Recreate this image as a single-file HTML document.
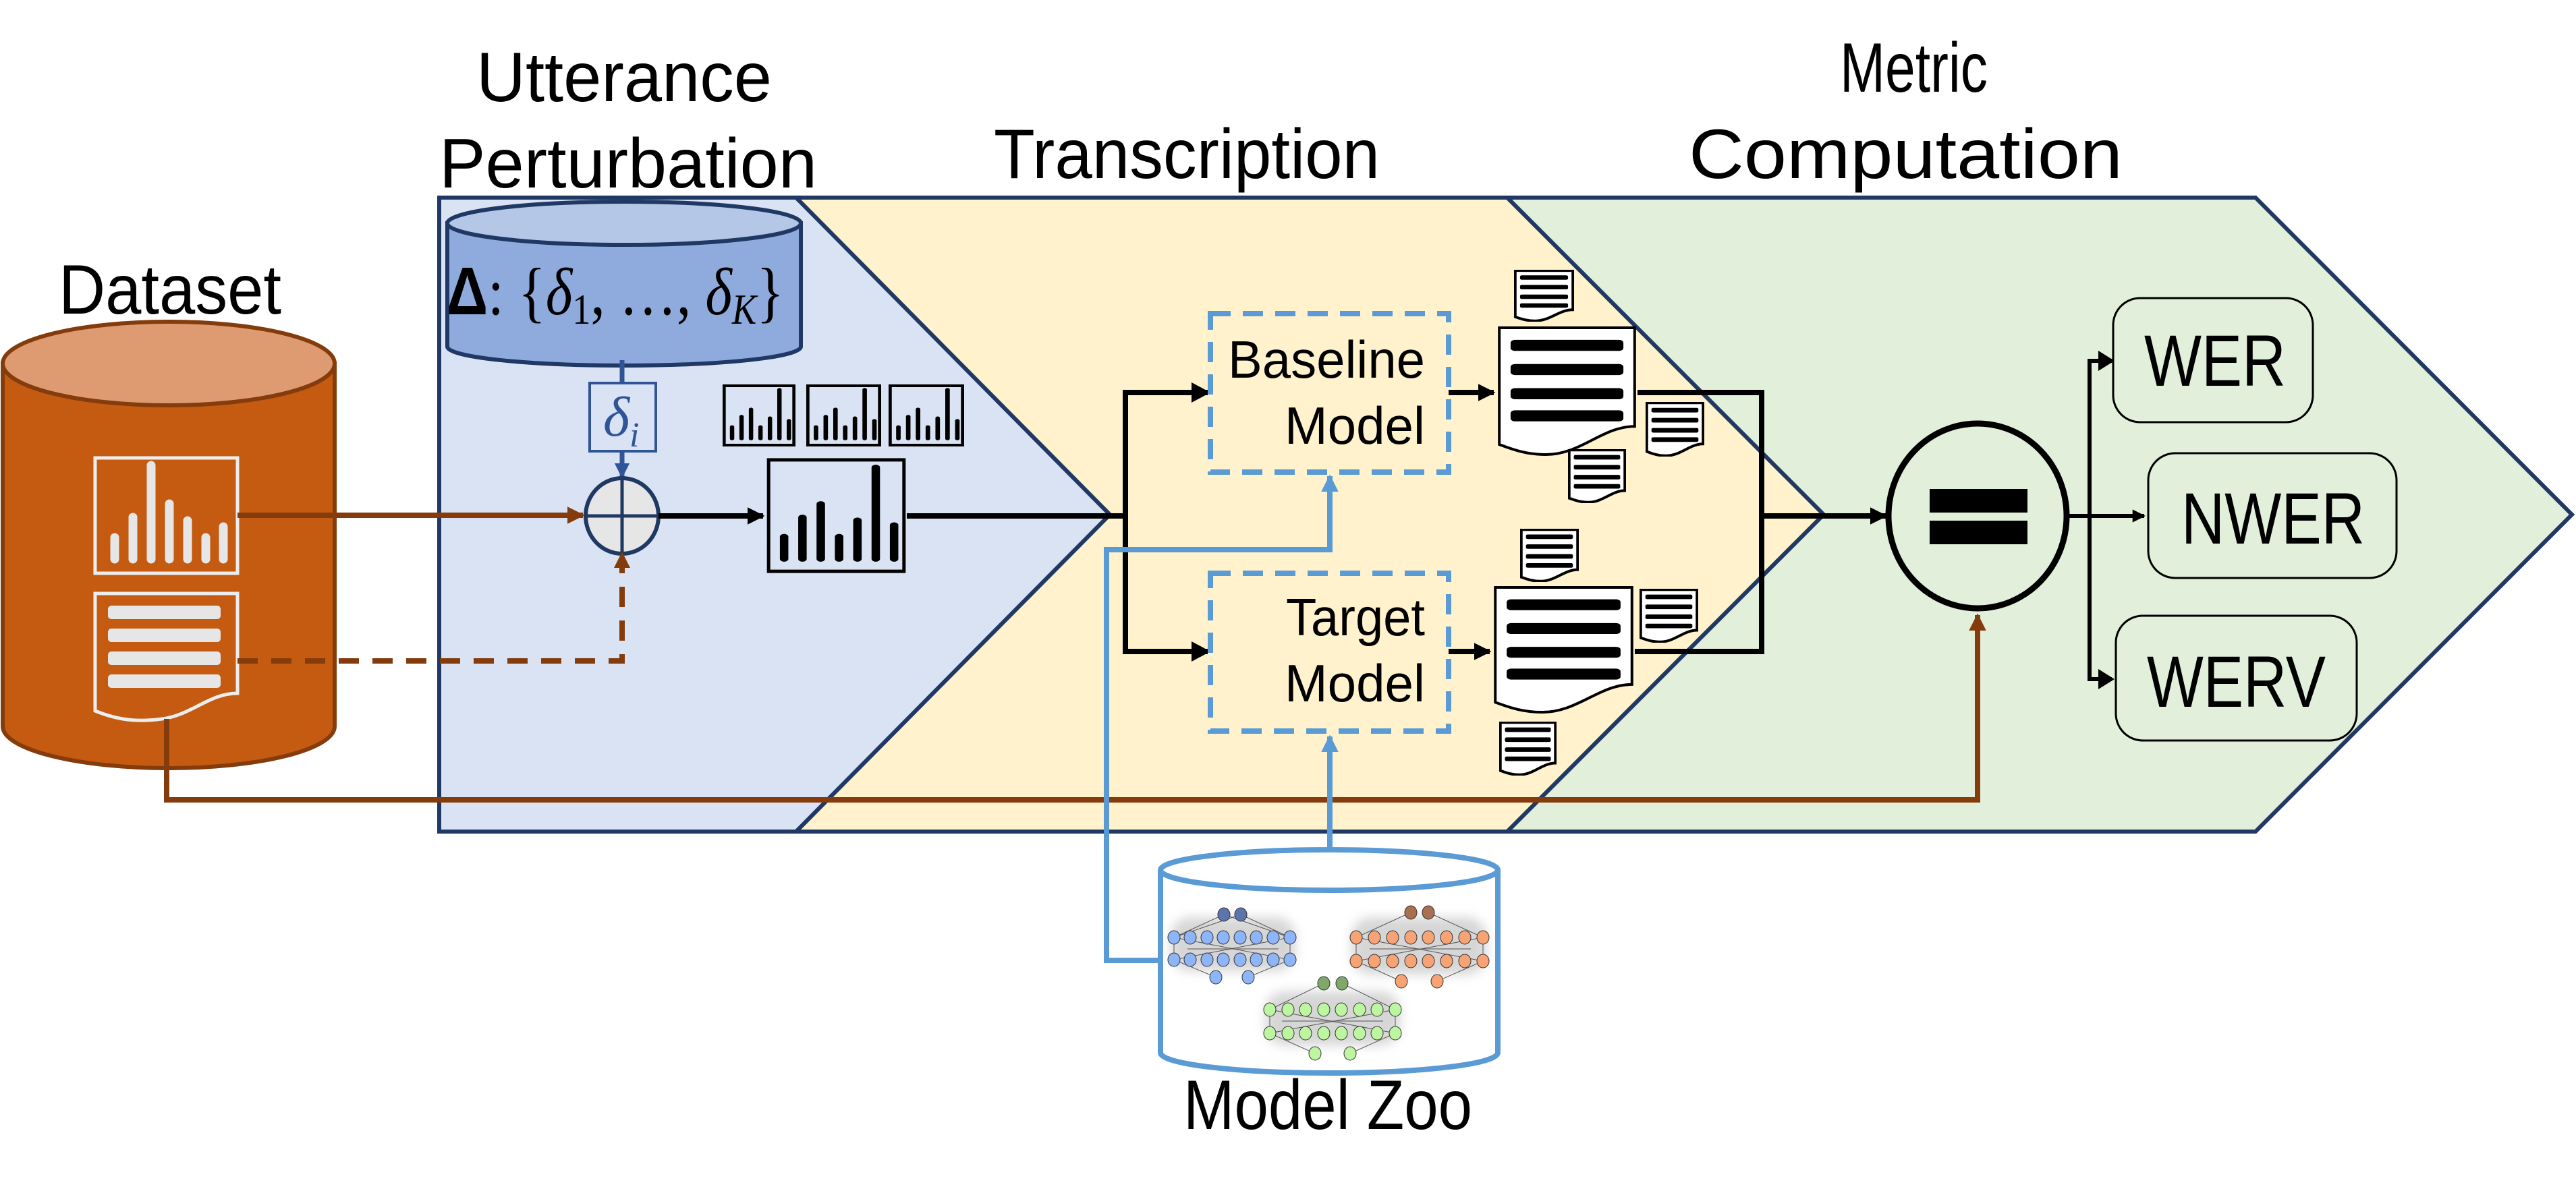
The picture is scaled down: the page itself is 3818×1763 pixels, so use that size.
<!DOCTYPE html>
<html><head><meta charset="utf-8"><style>html,body{margin:0;padding:0;background:#fff}svg{display:block}</style></head>
<body>
<svg xmlns="http://www.w3.org/2000/svg" width="3818" height="1763" viewBox="0 0 3818 1763" font-family="'Liberation Sans', sans-serif">
<defs>
<marker id="ab" viewBox="0 0 10 10" refX="9" refY="5" markerWidth="3.2" markerHeight="3.2" orient="auto" markerUnits="strokeWidth"><path d="M0 0L10 5L0 10z" fill="#000"/></marker>
<marker id="abr" viewBox="0 0 10 10" refX="9" refY="5" markerWidth="3.2" markerHeight="3.2" orient="auto" markerUnits="strokeWidth"><path d="M0 0L10 5L0 10z" fill="#843c0c"/></marker>
<marker id="abl" viewBox="0 0 10 10" refX="9" refY="5" markerWidth="3.2" markerHeight="3.2" orient="auto" markerUnits="strokeWidth"><path d="M0 0L10 5L0 10z" fill="#5b9bd5"/></marker>
<marker id="abd" viewBox="0 0 10 10" refX="9" refY="5" markerWidth="3.2" markerHeight="3.2" orient="auto" markerUnits="strokeWidth"><path d="M0 0L10 5L0 10z" fill="#2f5597"/></marker>
<symbol id="doc" viewBox="0 0 100 130" preserveAspectRatio="none">
<path d="M2 2H98V100C75 100 60 128 35 128C20 128 10 122 2 118Z" fill="#fff" stroke="#000" stroke-width="4" vector-effect="non-scaling-stroke"/>
<rect x="10" y="14" width="80" height="11" rx="3"/><rect x="10" y="38" width="80" height="11" rx="3"/><rect x="10" y="62" width="80" height="11" rx="3"/><rect x="10" y="84" width="80" height="11" rx="3"/>
</symbol>
<symbol id="spec" viewBox="0 0 100 120" preserveAspectRatio="none">
<rect x="2" y="2" width="96" height="116" fill="none" stroke="#000" stroke-width="5" vector-effect="non-scaling-stroke"/>
<g stroke="#000" stroke-width="6" stroke-linecap="round">
<line x1="13" y1="82" x2="13" y2="105"/><line x1="26" y1="62" x2="26" y2="105"/><line x1="39" y1="48" x2="39" y2="105"/><line x1="52" y1="82" x2="52" y2="105"/><line x1="65" y1="65" x2="65" y2="105"/><line x1="78" y1="10" x2="78" y2="105"/><line x1="91" y1="70" x2="91" y2="105"/>
</g>
</symbol>
<filter id="sh" x="-20%" y="-20%" width="140%" height="140%"><feGaussianBlur stdDeviation="8"/></filter>
</defs>

<!-- panels -->
<polygon points="651,293 1180,293 1645,763 1180,1233 651,1233" fill="#dae3f3" stroke="#1f3864" stroke-width="6"/>
<polygon points="1180,293 2234,293 2703,763 2234,1233 1180,1233 1645,763" fill="#fff2cc" stroke="#1f3864" stroke-width="6"/>
<polygon points="2234,293 3343,293 3812,763 3343,1233 2234,1233 2703,763" fill="#e2efda" stroke="#1f3864" stroke-width="6"/>

<!-- titles -->
<g font-size="104" fill="#000">
<text x="706" y="150" textLength="438" lengthAdjust="spacingAndGlyphs">Utterance</text>
<text x="651" y="278" textLength="560" lengthAdjust="spacingAndGlyphs">Perturbation</text>
<text x="1473" y="264" textLength="572" lengthAdjust="spacingAndGlyphs">Transcription</text>
<text x="2727" y="136" textLength="219" lengthAdjust="spacingAndGlyphs">Metric</text>
<text x="2503" y="264" textLength="643" lengthAdjust="spacingAndGlyphs">Computation</text>
<text x="87" y="465" textLength="330" lengthAdjust="spacingAndGlyphs">Dataset</text>
<text x="1754" y="1674" textLength="428" lengthAdjust="spacingAndGlyphs">Model Zoo</text>
</g>

<!-- dataset cylinder -->
<path d="M4 539V1077A246 62 0 0 0 496 1077V539Z" fill="#c55a11" stroke="#843c0c" stroke-width="6"/>
<ellipse cx="250" cy="539" rx="246" ry="62" fill="#de9b72" stroke="#843c0c" stroke-width="6"/>
<rect x="141" y="679" width="211" height="171" fill="none" stroke="#ededed" stroke-width="5"/>
<g stroke="#e7e6e6" stroke-width="13" stroke-linecap="round">
<line x1="170" y1="797" x2="170" y2="829"/><line x1="197" y1="767" x2="197" y2="829"/><line x1="224" y1="690" x2="224" y2="829"/><line x1="251" y1="747" x2="251" y2="829"/><line x1="278" y1="772" x2="278" y2="829"/><line x1="305" y1="797" x2="305" y2="829"/><line x1="331" y1="781" x2="331" y2="829"/>
</g>
<path d="M141 880H352V1028C310 1028 285 1060 240 1066C210 1070 180 1070 141 1054Z" fill="none" stroke="#ededed" stroke-width="5"/>
<g fill="#e7e6e6"><rect x="160" y="898" width="167" height="20" rx="5"/><rect x="160" y="932" width="167" height="20" rx="5"/><rect x="160" y="966" width="167" height="20" rx="5"/><rect x="160" y="1000" width="167" height="20" rx="5"/></g>

<!-- delta cylinder -->
<path d="M663 331V514A262 28 0 0 0 1187 514V331Z" fill="#8faadc" stroke="#1f3864" stroke-width="6"/>
<ellipse cx="925" cy="331" rx="262" ry="32" fill="#b4c7e7" stroke="#1f3864" stroke-width="6"/>
<text x="662" y="466" font-size="100" font-family="'Liberation Serif', serif" textLength="500" lengthAdjust="spacingAndGlyphs"><tspan font-weight="bold" font-family="'Liberation Sans', sans-serif">Δ</tspan>: {<tspan font-style="italic">δ</tspan><tspan font-size="64" dy="14">1</tspan><tspan dy="-14">, …, </tspan><tspan font-style="italic">δ</tspan><tspan font-size="64" font-style="italic" dy="14">K</tspan><tspan dy="-14">}</tspan></text>
<line x1="922" y1="534" x2="922" y2="568" stroke="#2f5597" stroke-width="7"/>
<rect x="874" y="568" width="98" height="101" fill="#dae3f3" stroke="#2f5597" stroke-width="4"/>
<text x="894" y="646" font-size="84" font-style="italic" fill="#2f5597" font-family="'Liberation Serif', serif">δ<tspan font-size="52" dy="16">i</tspan></text>
<line x1="922" y1="669" x2="922" y2="707" stroke="#2f5597" stroke-width="7" marker-end="url(#abd)"/>

<!-- plus circle -->
<ellipse cx="922" cy="765" rx="54" ry="56" fill="#e7e6e6" stroke="#1f3864" stroke-width="6"/>
<line x1="868" y1="765" x2="976" y2="765" stroke="#1f3864" stroke-width="5"/>
<line x1="922" y1="709" x2="922" y2="821" stroke="#1f3864" stroke-width="5"/>

<!-- brown connectors -->
<line x1="352" y1="764" x2="864" y2="764" stroke="#843c0c" stroke-width="8" marker-end="url(#abr)"/>
<polyline points="352,980 922,980 922,842" fill="none" stroke="#843c0c" stroke-width="8" stroke-dasharray="30,20" />
<path d="M910 842L922 818L934 842Z" fill="#843c0c"/>
<polyline points="247,1066 247,1186 2931,1186 2931,912" fill="none" stroke="#843c0c" stroke-width="8" marker-end="url(#abr)"/>

<!-- spectrograms -->
<use href="#spec" x="1071" y="570" width="108" height="92"/>
<use href="#spec" x="1195" y="570" width="111" height="92"/>
<use href="#spec" x="1317" y="570" width="112" height="92"/>
<use href="#spec" x="1135" y="679" width="209" height="171"/>
<line x1="976" y1="765" x2="1131" y2="765" stroke="#000" stroke-width="8" marker-end="url(#ab)"/>
<line x1="1344" y1="765" x2="1672" y2="765" stroke="#000" stroke-width="8"/>
<polyline points="1790,582 1668,582 1668,966 1790,966" fill="none" stroke="#000" stroke-width="8"/>
<path d="M1766 567L1794 582L1766 597Z"/><path d="M1766 951L1794 966L1766 981Z"/>

<!-- model boxes -->
<rect x="1794" y="465" width="353" height="235" fill="none" stroke="#5b9bd5" stroke-width="8" stroke-dasharray="30,18"/>
<rect x="1794" y="850" width="353" height="234" fill="none" stroke="#5b9bd5" stroke-width="8" stroke-dasharray="30,18"/>
<g font-size="78" text-anchor="end">
<text x="2112" y="560" textLength="292" lengthAdjust="spacingAndGlyphs">Baseline</text><text x="2112" y="658" textLength="208" lengthAdjust="spacingAndGlyphs">Model</text>
<text x="2112" y="942" textLength="206" lengthAdjust="spacingAndGlyphs">Target</text><text x="2112" y="1040" textLength="208" lengthAdjust="spacingAndGlyphs">Model</text>
</g>
<line x1="2147" y1="582" x2="2214" y2="582" stroke="#000" stroke-width="8" marker-end="url(#ab)"/>
<line x1="2147" y1="966" x2="2208" y2="966" stroke="#000" stroke-width="8" marker-end="url(#ab)"/>

<!-- docs -->
<use href="#doc" x="2244" y="400" width="89" height="77"/>
<use href="#doc" x="2218" y="483" width="209" height="194"/>
<use href="#doc" x="2439" y="596" width="87" height="81"/>
<use href="#doc" x="2324" y="666" width="86" height="80"/>
<use href="#doc" x="2253" y="784" width="87" height="79"/>
<use href="#doc" x="2212" y="868" width="211" height="191"/>
<use href="#doc" x="2430" y="873" width="87" height="80"/>
<use href="#doc" x="2222" y="1070" width="85" height="80"/>

<polyline points="2427,582 2611,582 2611,966 2423,966" fill="none" stroke="#000" stroke-width="8"/>
<line x1="2611" y1="765" x2="2795" y2="765" stroke="#000" stroke-width="8" marker-end="url(#ab)"/>

<!-- equals circle -->
<ellipse cx="2931" cy="765" rx="132" ry="137" fill="none" stroke="#000" stroke-width="9"/>
<rect x="2860" y="725" width="145" height="35"/><rect x="2860" y="772" width="145" height="35"/>

<!-- metrics -->
<line x1="3063" y1="765" x2="3178" y2="765" stroke="#000" stroke-width="6" marker-end="url(#ab)"/>
<polyline points="3130,535 3097,535 3097,1007 3130,1007" fill="none" stroke="#000" stroke-width="6"/>
<path d="M3110 520L3134 535L3110 550Z"/><path d="M3110 992L3134 1007L3110 1022Z"/>
<g fill="#e2efda" stroke="#000" stroke-width="3">
<rect x="3132" y="442" width="296" height="184" rx="40"/>
<rect x="3184" y="672" width="368" height="185" rx="40"/>
<rect x="3136" y="913" width="357" height="185" rx="40"/>
</g>
<g font-size="108">
<text x="3178" y="572" textLength="210" lengthAdjust="spacingAndGlyphs">WER</text>
<text x="3233" y="806" textLength="272" lengthAdjust="spacingAndGlyphs">NWER</text>
<text x="3182" y="1048" textLength="265" lengthAdjust="spacingAndGlyphs">WERV</text>
</g>

<!-- model zoo -->
<polyline points="1720,1424 1640,1424 1640,815 1971,815 1971,706" fill="none" stroke="#5b9bd5" stroke-width="8" marker-end="url(#abl)"/>
<line x1="1971" y1="1262" x2="1971" y2="1092" stroke="#5b9bd5" stroke-width="8" marker-end="url(#abl)"/>
<path d="M1720 1290V1561A250 30 0 0 0 2220 1561V1290" fill="#fff" stroke="#5b9bd5" stroke-width="8"/>
<ellipse cx="1970" cy="1290" rx="250" ry="30" fill="#fff" stroke="#5b9bd5" stroke-width="8"/>

<g fill="#bbb" filter="url(#sh)" opacity="0.6">
<rect x="1735" y="1360" width="185" height="80" rx="30"/>
<rect x="2003" y="1360" width="200" height="85" rx="30"/>
<rect x="1875" y="1470" width="200" height="80" rx="30"/>
</g>
<g stroke="#333" stroke-width="1" opacity="0.8">
<path d="M1814 1356L1740 1390M1814 1356L1912 1390M1839 1356L1740 1390M1839 1356L1912 1390M1740 1390L1912 1423M1912 1390L1740 1423M1760 1407H1895M1740 1423L1802 1449M1912 1423L1850 1449M1740 1390V1423M1912 1390V1423"/>
<path d="M2091 1353L2010 1390M2117 1353L2198 1390M2010 1390L2198 1425M2198 1390L2010 1425M2030 1407H2180M2010 1425L2077 1455M2198 1425L2130 1455M2010 1390V1425M2198 1390V1425"/>
<path d="M1962 1458L1882 1497M1989 1458L2068 1497M1882 1497L2068 1532M2068 1497L1882 1532M1900 1514H2050M1882 1532L1949 1562M2068 1532L2001 1562M1882 1497V1532M2068 1497V1532"/>
</g>
<g stroke="#333" stroke-width="1">
<g fill="#5b76ad"><ellipse cx="1814" cy="1356" rx="9" ry="10"/><ellipse cx="1839" cy="1356" rx="9" ry="10"/></g>
<g fill="#8eb4fa">
<ellipse cx="1740" cy="1390" rx="9" ry="10"/><ellipse cx="1764" cy="1390" rx="9" ry="10"/><ellipse cx="1789" cy="1390" rx="9" ry="10"/><ellipse cx="1813" cy="1390" rx="9" ry="10"/><ellipse cx="1838" cy="1390" rx="9" ry="10"/><ellipse cx="1862" cy="1390" rx="9" ry="10"/><ellipse cx="1887" cy="1390" rx="9" ry="10"/><ellipse cx="1912" cy="1390" rx="9" ry="10"/>
<ellipse cx="1740" cy="1423" rx="9" ry="10"/><ellipse cx="1764" cy="1423" rx="9" ry="10"/><ellipse cx="1789" cy="1423" rx="9" ry="10"/><ellipse cx="1813" cy="1423" rx="9" ry="10"/><ellipse cx="1838" cy="1423" rx="9" ry="10"/><ellipse cx="1862" cy="1423" rx="9" ry="10"/><ellipse cx="1887" cy="1423" rx="9" ry="10"/><ellipse cx="1912" cy="1423" rx="9" ry="10"/>
<ellipse cx="1802" cy="1449" rx="9" ry="10"/><ellipse cx="1850" cy="1449" rx="9" ry="10"/></g>
<g fill="#a87050"><ellipse cx="2091" cy="1353" rx="9" ry="10"/><ellipse cx="2117" cy="1353" rx="9" ry="10"/></g>
<g fill="#f7a374">
<ellipse cx="2010" cy="1390" rx="9" ry="10"/><ellipse cx="2037" cy="1390" rx="9" ry="10"/><ellipse cx="2064" cy="1390" rx="9" ry="10"/><ellipse cx="2091" cy="1390" rx="9" ry="10"/><ellipse cx="2117" cy="1390" rx="9" ry="10"/><ellipse cx="2144" cy="1390" rx="9" ry="10"/><ellipse cx="2171" cy="1390" rx="9" ry="10"/><ellipse cx="2198" cy="1390" rx="9" ry="10"/>
<ellipse cx="2010" cy="1425" rx="9" ry="10"/><ellipse cx="2037" cy="1425" rx="9" ry="10"/><ellipse cx="2064" cy="1425" rx="9" ry="10"/><ellipse cx="2091" cy="1425" rx="9" ry="10"/><ellipse cx="2117" cy="1425" rx="9" ry="10"/><ellipse cx="2144" cy="1425" rx="9" ry="10"/><ellipse cx="2171" cy="1425" rx="9" ry="10"/><ellipse cx="2198" cy="1425" rx="9" ry="10"/>
<ellipse cx="2077" cy="1455" rx="9" ry="10"/><ellipse cx="2130" cy="1455" rx="9" ry="10"/></g>
<g fill="#7fa86a"><ellipse cx="1962" cy="1458" rx="9" ry="10"/><ellipse cx="1989" cy="1458" rx="9" ry="10"/></g>
<g fill="#bdf5a0">
<ellipse cx="1882" cy="1497" rx="9" ry="10"/><ellipse cx="1909" cy="1497" rx="9" ry="10"/><ellipse cx="1935" cy="1497" rx="9" ry="10"/><ellipse cx="1962" cy="1497" rx="9" ry="10"/><ellipse cx="1988" cy="1497" rx="9" ry="10"/><ellipse cx="2015" cy="1497" rx="9" ry="10"/><ellipse cx="2041" cy="1497" rx="9" ry="10"/><ellipse cx="2068" cy="1497" rx="9" ry="10"/>
<ellipse cx="1882" cy="1532" rx="9" ry="10"/><ellipse cx="1909" cy="1532" rx="9" ry="10"/><ellipse cx="1935" cy="1532" rx="9" ry="10"/><ellipse cx="1962" cy="1532" rx="9" ry="10"/><ellipse cx="1988" cy="1532" rx="9" ry="10"/><ellipse cx="2015" cy="1532" rx="9" ry="10"/><ellipse cx="2041" cy="1532" rx="9" ry="10"/><ellipse cx="2068" cy="1532" rx="9" ry="10"/>
<ellipse cx="1949" cy="1562" rx="9" ry="10"/><ellipse cx="2001" cy="1562" rx="9" ry="10"/></g>
</g>
</svg>
</body></html>
